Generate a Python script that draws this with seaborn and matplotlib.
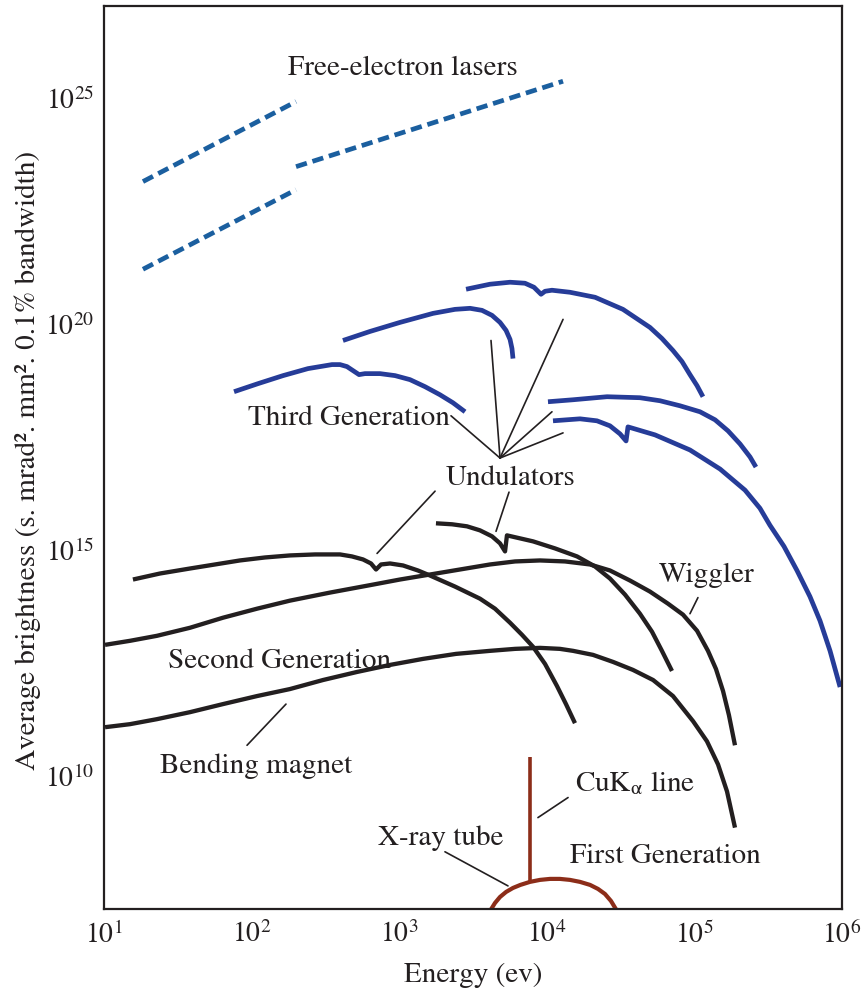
import numpy as np
import pandas as pd
import matplotlib
matplotlib.use("Agg")
import matplotlib.pyplot as plt
import seaborn as sns

# ---------------------------------------------------------------------------
# Spectral brightness of X-ray sources (values as log10 of energy in eV and
# log10 of brightness in photons / (s. mrad^2. mm^2. 0.1% bandwidth))
# ---------------------------------------------------------------------------

# Free-electron lasers (three straight segments)
fel1_logE = [1.264, 2.301]
fel1_logB = [23.16, 24.93]
fel2_logE = [1.264, 2.301]
fel2_logB = [21.22, 22.98]
fel3_logE = [2.301, 4.110]
fel3_logB = [23.49, 25.38]

# Third generation sources
und3a_logE = [1.881, 2.043, 2.213, 2.382, 2.545, 2.599, 2.646, 2.687, 2.728,
              2.768, 2.870, 2.972, 3.073, 3.175, 3.276, 3.364, 3.446]
und3a_logB = [18.511, 18.689, 18.867, 19.022, 19.111, 19.111, 19.067, 18.978,
              18.889, 18.911, 18.911, 18.867, 18.778, 18.622, 18.444, 18.267,
              18.067]

und3b_logE = [2.619, 2.802, 3.005, 3.229, 3.378, 3.480, 3.561, 3.629, 3.683,
              3.724, 3.751, 3.764, 3.771]
und3b_logB = [19.644, 19.844, 20.044, 20.244, 20.333, 20.356, 20.311, 20.200,
              20.044, 19.867, 19.667, 19.467, 19.244]

und3c_logE = [3.453, 3.615, 3.751, 3.852, 3.913, 3.961, 3.988, 4.035, 4.157,
              4.327, 4.516, 4.699, 4.780, 4.855, 4.916, 4.970, 5.018, 5.058]
und3c_logB = [20.778, 20.889, 20.933, 20.911, 20.822, 20.667, 20.733, 20.756,
              20.711, 20.600, 20.333, 19.933, 19.689, 19.422, 19.178, 18.889,
              18.644, 18.400]

und3d_logE = [4.008, 4.178, 4.408, 4.631, 4.767, 4.902, 5.038, 5.140, 5.228,
              5.309, 5.377, 5.417]
und3d_logB = [18.289, 18.333, 18.400, 18.378, 18.311, 18.200, 18.067, 17.889,
              17.644, 17.356, 17.067, 16.844]

und3e_logE = [4.042, 4.225, 4.340, 4.428, 4.496, 4.537, 4.550, 4.733, 4.970,
              5.174, 5.343, 5.444, 5.512, 5.607, 5.695, 5.783, 5.851, 5.919,
              5.987]
und3e_logB = [17.867, 17.911, 17.867, 17.756, 17.578, 17.422, 17.733, 17.556,
              17.222, 16.800, 16.333, 15.933, 15.556, 15.089, 14.556, 13.978,
              13.444, 12.778, 11.978]

und3k_logE = [3.249, 3.358, 3.459, 3.547, 3.629, 3.683, 3.717, 3.730, 3.818,
              3.907, 4.056, 4.205, 4.327, 4.428, 4.530, 4.631, 4.713, 4.780,
              4.848]
und3k_logB = [15.600, 15.578, 15.533, 15.444, 15.311, 15.156, 14.978, 15.333,
              15.267, 15.200, 15.044, 14.867, 14.644, 14.378, 14.022, 13.600,
              13.200, 12.778, 12.333]

# Second generation sources
und2_logE = [1.196, 1.379, 1.583, 1.752, 1.921, 2.091, 2.260, 2.430, 2.599,
             2.680, 2.755, 2.809, 2.843, 2.877, 2.938, 3.026, 3.127, 3.209,
             3.378, 3.547, 3.649, 3.751, 3.832, 3.907, 3.988, 4.069, 4.130,
             4.191]
und2_logB = [14.356, 14.489, 14.600, 14.689, 14.778, 14.844, 14.889, 14.911,
             14.911, 14.867, 14.800, 14.711, 14.578, 14.689, 14.711, 14.667,
             14.556, 14.444, 14.200, 13.933, 13.711, 13.400, 13.133, 12.867,
             12.489, 12.000, 11.600, 11.178]

wig_logE = [1.007, 1.176, 1.359, 1.583, 1.806, 2.037, 2.260, 2.531, 2.823,
            3.005, 3.209, 3.412, 3.615, 3.785, 3.954, 4.123, 4.293, 4.428,
            4.564, 4.699, 4.821, 4.923, 5.018, 5.092, 5.146, 5.194, 5.234,
            5.275]
wig_logB = [12.911, 13.000, 13.111, 13.289, 13.511, 13.711, 13.889, 14.067,
            14.244, 14.356, 14.467, 14.578, 14.689, 14.756, 14.778, 14.756,
            14.689, 14.556, 14.333, 14.089, 13.822, 13.578, 13.222, 12.778,
            12.378, 11.889, 11.356, 10.689]

bend_logE = [1.007, 1.176, 1.359, 1.583, 1.806, 2.037, 2.260, 2.484, 2.714,
             2.938, 3.161, 3.385, 3.615, 3.785, 3.954, 4.089, 4.178, 4.313,
             4.449, 4.584, 4.720, 4.855, 4.991, 5.085, 5.160, 5.221, 5.275]
bend_logB = [11.089, 11.156, 11.267, 11.422, 11.600, 11.778, 11.933, 12.133,
             12.311, 12.467, 12.600, 12.711, 12.778, 12.822, 12.844, 12.822,
             12.778, 12.689, 12.533, 12.356, 12.133, 11.778, 11.222, 10.778,
             10.267, 9.667, 8.867]

# First generation: X-ray tube continuum and the CuK-alpha line
tube_logE = [3.615, 3.649, 3.683, 3.724, 3.771, 3.821, 3.886, 3.954, 4.022,
             4.089, 4.157, 4.225, 4.293, 4.347, 4.394, 4.435, 4.476]
tube_logB = [7.022, 7.200, 7.333, 7.444, 7.533, 7.600, 7.667, 7.711, 7.733,
             7.733, 7.711, 7.667, 7.600, 7.511, 7.400, 7.244, 7.022]
cuka_logE = [3.886, 3.886]
cuka_logB = [7.67, 10.44]

x_ticks_exp = [1, 2, 3, 4, 5, 6]
y_ticks_exp = [10, 15, 20, 25]

# ---------------------------------------------------------------------------
sns.set_theme(style="white")
plt.rcParams["font.family"] = ["STIXGeneral", "DejaVu Serif"]
plt.rcParams["mathtext.fontset"] = "stix"

INK = "#231f20"
BLUE = "#263c98"
FEL_BLUE = "#1b5f9f"
BROWN = "#8c2d19"
FS = 21

fig = plt.figure(figsize=(8.61, 9.97), dpi=100)
ax = fig.add_axes([104 / 861, 88 / 997, 738 / 861, 903 / 997])
ax.set_xscale("log")
ax.set_yscale("log")


def curve(logE, logB, color, lw, **kw):
    df = pd.DataFrame({"E": np.power(10.0, logE), "B": np.power(10.0, logB)})
    sns.lineplot(data=df, x="E", y="B", estimator=None, sort=False,
                 color=color, linewidth=lw, ax=ax, **kw)


fel_style = dict(linestyle=(0, (2.4, 1.25)), dash_capstyle="butt")
for le, lb in [(fel1_logE, fel1_logB), (fel2_logE, fel2_logB), (fel3_logE, fel3_logB)]:
    curve(le, lb, FEL_BLUE, 3.4, **fel_style)

solid = dict(solid_capstyle="butt", solid_joinstyle="round")
for le, lb in [(und3a_logE, und3a_logB), (und3b_logE, und3b_logB),
               (und3c_logE, und3c_logB), (und3d_logE, und3d_logB),
               (und3e_logE, und3e_logB)]:
    curve(le, lb, BLUE, 3.4, **solid)

for le, lb in [(und3k_logE, und3k_logB), (und2_logE, und2_logB),
               (wig_logE, wig_logB), (bend_logE, bend_logB)]:
    curve(le, lb, INK, 3.1, **solid)

curve(tube_logE, tube_logB, BROWN, 3.0, **solid)
curve(cuka_logE, cuka_logB, BROWN, 2.6, **solid)

ax.set_xlim(10 ** 1, 10 ** 6)
ax.set_ylim(10 ** 7.067, 10 ** 27.044)
ax.set_xticks([10.0 ** e for e in x_ticks_exp])
ax.set_xticklabels([rf"$10^{{{e}}}$" for e in x_ticks_exp])
ax.set_yticks([10.0 ** e for e in y_ticks_exp])
ax.set_yticklabels([rf"$10^{{{e}}}$" for e in y_ticks_exp])
ax.minorticks_off()
ax.tick_params(axis="both", which="major", direction="in", length=10,
               width=1.5, color=INK, labelsize=20, labelcolor=INK)
ax.tick_params(axis="x", pad=9)
ax.tick_params(axis="y", pad=7)
for sp in ax.spines.values():
    sp.set_visible(True)
    sp.set_linewidth(1.6)
    sp.set_color(INK)

ax.set_xlabel("Energy (ev)", fontsize=FS, color=INK)
ax.xaxis.set_label_coords(0.5, -(975 - 909) / 903)
ax.xaxis.label.set_va("center")
ax.set_ylabel("Average brightness (s. mrad². mm². 0.1% bandwidth)",
              fontsize=FS, color=INK)
ax.yaxis.set_label_coords(-(104 - 28) / 738, (909 - 460) / 903)
ax.yaxis.label.set_va("center")


def P(le, lb):
    return (10 ** le, 10 ** lb)


def label(le, lb, s, ha="center"):
    ax.text(10 ** le, 10 ** lb, s, fontsize=FS, color=INK, ha=ha, va="center")


def pointer(a, b):
    ax.annotate("", xy=P(*b), xytext=P(*a),
                arrowprops=dict(arrowstyle="-", color=INK, lw=1.2,
                                shrinkA=0, shrinkB=0))


label(3.026, 25.67, "Free-electron lasers")
label(1.976, 17.91, "Third Generation", ha="left")
label(3.757, 16.60, "Undulators")
label(2.192, 12.55, "Second Generation")
label(2.030, 10.22, "Bending magnet")
label(5.085, 14.44, "Wiggler")
label(4.191, 9.86, r"CuK$_{\mathrm{α}}$ line", ha="left")
label(3.283, 8.64, "X-ray tube")
label(4.801, 8.22, "First Generation")

hub = (3.683, 17.044)
for tip in [(3.622, 19.644), (4.110, 20.111), (4.035, 18.067),
            (4.110, 17.600), (3.351, 17.978)]:
    pointer(hub, tip)
pointer((3.243, 16.311), (2.850, 14.933))
pointer((3.744, 16.289), (3.656, 15.422))
pointer((2.233, 11.600), (1.969, 10.689))
pointer((5.024, 13.956), (4.970, 13.600))
pointer((4.144, 9.533), (3.940, 9.089))
pointer((3.310, 8.333), (3.737, 7.578))

fig.savefig("out.png", dpi=100)
